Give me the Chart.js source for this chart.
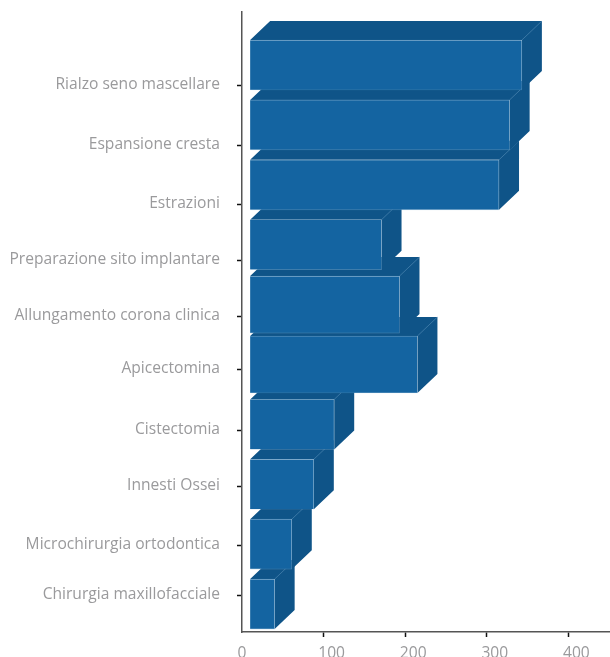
<!DOCTYPE html>
<html>
<head>
<meta charset="utf-8">
<style>
  html, body { margin: 0; padding: 0; background: #fff; }
  #wrap { width: 610px; height: 657px; }
</style>
<script src="https://cdn.jsdelivr.net/npm/chart.js@4"></script>
</head>
<body>
<div id="wrap"><canvas id="chart"></canvas></div>
<script>
const categories = ['Rialzo seno mascellare', 'Espansione cresta', 'Estrazioni', 'Preparazione sito implantare',
  'Allungamento corona clinica', 'Apicectomina', 'Cistectomia', 'Innesti Ossei', 'Microchirurgia ortodontica', 'Chirurgia maxillofacciale'];
const values = [343, 328, 315, 171, 193, 215, 113, 88, 61, 40];
const tallRows = [4, 5];   // these two bars are drawn thicker in the original
const xTicks = [0, 100, 200, 300, 400];

// the label ticks do not line up with the bars in the original, so they get their own axis
const labelSpots = [73, 133, 192, 248, 304, 357, 418, 474, 533, 583];

const FRONT = '#1464a1', DEPTH = '#0f5488', EDGE = 'rgba(130,175,210,.55)';
const GREY = '#9a9a9c';
const DEPTH_X = 20, DEPTH_Y = 19;

const rows = (keep) => values.map((v, i) => ({ x: v, y: i })).filter((d) => keep(d.y));

// side and top faces, lowest bar first so upper ones cover it
const depthFaces = {
  id: 'depthFaces',
  beforeDatasetsDraw(chart) {
    const bars = [];
    chart.data.datasets.forEach((ds, n) => chart.getDatasetMeta(n).data.forEach((b) => bars.push(b)));
    bars.sort((a, b) => b.y - a.y);
    const c = chart.ctx;
    c.save();
    c.lineWidth = 0.7;
    bars.forEach((b) => {
      const top = b.y - b.height / 2, bottom = b.y + b.height / 2;
      c.fillStyle = DEPTH;
      c.beginPath();
      c.moveTo(b.base, top);
      c.lineTo(b.base + DEPTH_X, top - DEPTH_Y);
      c.lineTo(b.x + DEPTH_X, top - DEPTH_Y);
      c.lineTo(b.x + DEPTH_X, bottom - DEPTH_Y);
      c.lineTo(b.x, bottom);
      c.lineTo(b.x, top);
      c.closePath();
      c.fill();
      c.strokeStyle = EDGE;
      c.beginPath();
      c.moveTo(b.x, top);
      c.lineTo(b.x + DEPTH_X, top - DEPTH_Y);
      c.stroke();
    });
    c.restore();
  }
};

new Chart(document.getElementById('chart'), {
  type: 'bar',
  plugins: [depthFaces],
  data: {
    datasets: [
      { data: rows((i) => !tallRows.includes(i)), barThickness: 50 },
      { data: rows((i) => tallRows.includes(i)), barThickness: 57 }
    ].map((d) => ({
      ...d, yAxisID: 'yBars', xAxisID: 'x', base: 10, grouped: false,
      backgroundColor: FRONT, borderColor: EDGE, borderWidth: 0.7
    }))
  },
  options: {
    indexAxis: 'y',
    responsive: true,
    maintainAspectRatio: false,
    animation: false,
    layout: { padding: { top: 12, left: 0, right: 0, bottom: 0 } },
    plugins: { legend: { display: false }, tooltip: { enabled: false } },
    scales: {
      yBars: { axis: 'y', type: 'linear', display: false, offset: false, reverse: true, min: -0.885, max: 9.466 },
      yLabels: {
        axis: 'y', type: 'linear', position: 'left', offset: false, reverse: true, min: 0, max: 620,
        afterBuildTicks(axis) { axis.ticks = labelSpots.map((value) => ({ value })); },
        afterFit(axis) { axis.width = 242; axis.paddingTop = 0; axis.paddingBottom = 0; },
        border: { color: '#555', width: 1.5 },
        grid: { offset: false, drawOnChartArea: false, tickLength: 5, tickColor: '#111', tickWidth: 1.5 },
        ticks: {
          autoSkip: false, padding: 17, color: GREY,
          font: { family: '"Open Sans"', size: 15.6 },
          callback: (v) => categories[labelSpots.indexOf(v)]
        }
      },
      x: {
        type: 'linear', position: 'bottom', min: 0, max: 451,
        afterBuildTicks(axis) { axis.ticks = xTicks.map((value) => ({ value })); },
        afterFit(axis) { axis.height = 25; axis.paddingLeft = 0; axis.paddingRight = 0; },
        border: { color: '#555', width: 1.5 },
        grid: {
          drawOnChartArea: false, tickLength: 5, tickWidth: 1.5,
          tickColor: (ctx) => (ctx.tick && ctx.tick.value === 0 ? 'transparent' : '#111')
        },
        ticks: {
          padding: 7, color: GREY, labelOffset: 8, maxRotation: 0,
          font: { family: '"Open Sans"', size: 15.6 },
          // trailing spaces pull the zero back under the axis
          callback: (v) => (v === 0 ? '0\u00a0\u00a0\u00a0\u00a0' : String(v))
        }
      }
    }
  }
});
</script>
</body>
</html>
